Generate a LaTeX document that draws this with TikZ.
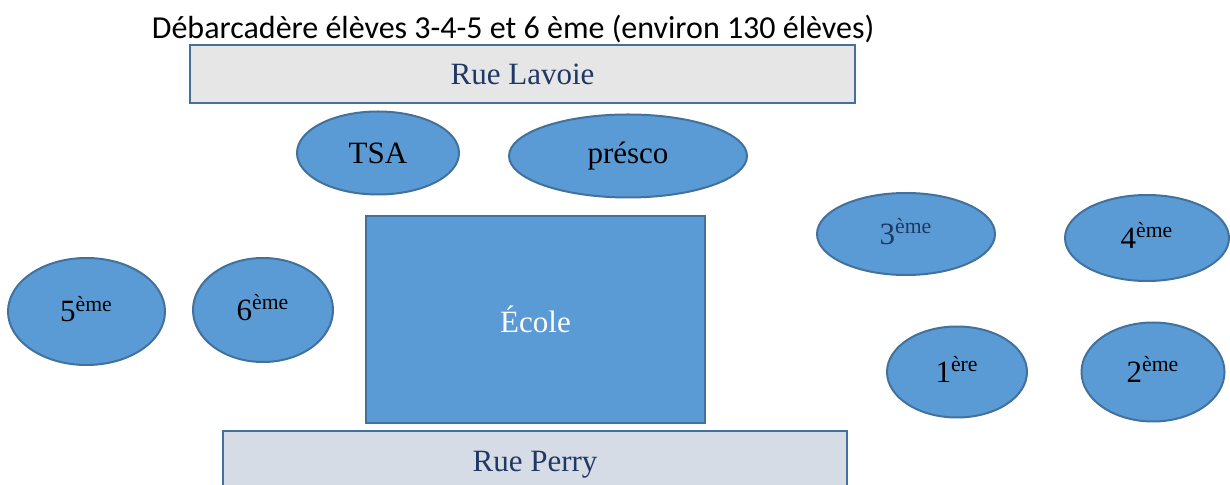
\documentclass[tikz,border=0pt]{standalone}
\usepackage{fontspec}
\setmainfont{Liberation Serif}
\newfontfamily\titrefont{Carlito}
\usetikzlibrary{shapes.geometric}
\definecolor{bleu}{HTML}{5B9BD5}
\definecolor{bordure}{HTML}{41719C}
\definecolor{marine}{HTML}{1F3864}
\definecolor{gris}{HTML}{E7E6E6}
\definecolor{grisbleu}{HTML}{D6DCE5}
\newcommand{\niveau}[2]{#1\smash{\textsuperscript{#2}}}

\begin{document}
\begin{tikzpicture}[x=0.5pt, y=-0.5pt,
    classe/.style={ellipse, draw=bordure, fill=bleu, line width=1pt, inner sep=0pt, font=\fontsize{15.5}{18}\selectfont},
    rue/.style={rectangle, draw=bordure, line width=1pt, inner sep=0pt, text depth=0pt, text=marine, font=\fontsize{15.5}{18}\selectfont}]
    \clip (0, 0) rectangle (1230, 485);
    \node[font=\titrefont\fontsize{16}{19}\selectfont, inner sep=0pt] (titre) at (513, 29) {Débarcadère élèves 3-4-5 et 6 ème (environ 130 élèves)};
    \node[rue, fill=gris, minimum width=332.5pt, minimum height=29pt] (lavoie) at (522.5, 74) {Rue Lavoie};
    \node[rue, fill=grisbleu, minimum width=312pt, minimum height=30pt] (perry) at (535, 461) {Rue Perry};
    \node[rue, fill=bleu, text=white, minimum width=169.5pt, minimum height=103.5pt] (ecole) at (535.5, 319.5) {École};
    \node[classe, minimum width=81pt, minimum height=41.5pt] (tsa) at (378, 153) {TSA};
    \node[classe, minimum width=119pt, minimum height=41.5pt] (presco) at (628, 156) {présco};
    \node[classe, text=marine, minimum width=89pt, minimum height=41pt] (trois) at (906, 234) {\niveau{3}{ème}};
    \node[classe, minimum width=82pt, minimum height=43pt] (quatre) at (1147, 238) {\niveau{4}{ème}};
    \node[classe, minimum width=78.5pt, minimum height=53.5pt] (cinq) at (86.5, 311.5) {\niveau{5}{ème}};
    \node[classe, minimum width=70pt, minimum height=52pt] (six) at (263, 310) {\niveau{6}{ème}};
    \node[classe, minimum width=70pt, minimum height=45.5pt] (un) at (957, 372) {\niveau{1}{ère}};
    \node[classe, minimum width=71.5pt, minimum height=49.5pt] (deux) at (1153, 372) {\niveau{2}{ème}};
\end{tikzpicture}
\end{document}
